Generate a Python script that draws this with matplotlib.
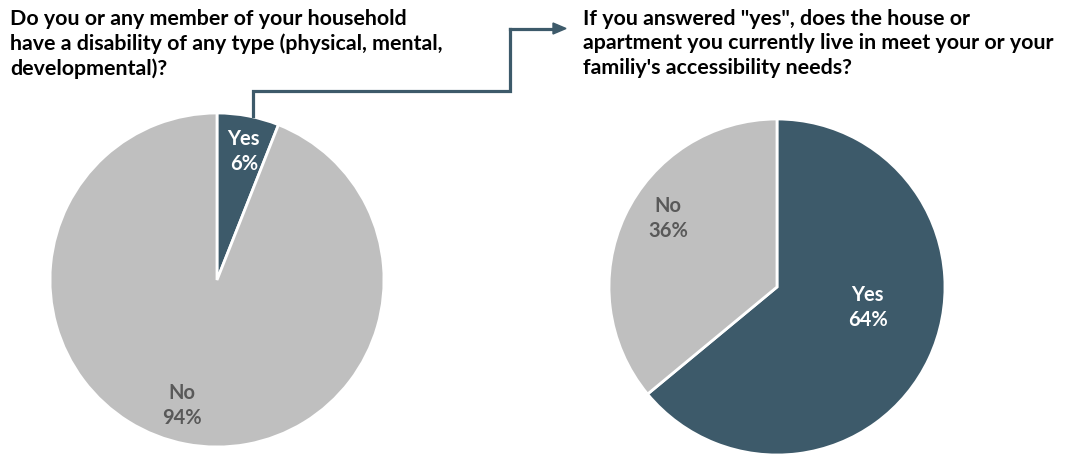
import matplotlib.pyplot as plt

dark = "#3d5a6a"
grey = "#bfbfbf"
label_grey = "#595959"

left_title = "Do you or any member of your household\nhave a disability of any type (physical, mental,\ndevelopmental)?"
right_title = "If you answered \"yes\", does the house or\napartment you currently live in meet your or your\nfamiliy's accessibility needs?"

left_labels = ["Yes", "No"]
left_values = [6, 94]
right_labels = ["Yes", "No"]
right_values = [64, 36]

# label positions in pie radius units
left_label_pos = [(0.16, 0.77), (-0.21, -0.75)]
right_label_pos = [(0.54, -0.12), (-0.65, 0.41)]

plt.rcParams["font.family"] = ["Lato", "DejaVu Sans"]
plt.rcParams["font.weight"] = "bold"

fig = plt.figure(figsize=(10.71, 4.54), dpi=100)

W, H = 1071, 454


def pie_axes(cx, cy, r):
    return fig.add_axes([(cx - r) / W, (H - cy - r) / H, 2 * r / W, 2 * r / H])


def draw_pie(ax, labels, values, positions):
    wedges, _ = ax.pie(values, colors=[dark, grey], startangle=90, counterclock=False,
                       wedgeprops=dict(edgecolor="white", linewidth=2))
    total = sum(values)
    for lab, v, w, (x, y) in zip(labels, values, wedges, positions):
        c = "white" if w.get_facecolor()[0] < 0.5 else label_grey
        ax.text(x, y, f"{lab}\n{round(100 * v / total)}%", ha="center", va="center",
                color=c, fontsize=14.5, fontweight="bold", linespacing=1.3)
    ax.set_xlim(-1, 1)
    ax.set_ylim(-1, 1)
    ax.axis("off")


ax1 = pie_axes(217, 280, 167)
draw_pie(ax1, left_labels, left_values, left_label_pos)
ax2 = pie_axes(777, 287, 168)
draw_pie(ax2, right_labels, right_values, right_label_pos)

fig.text(10 / W, 1 - 9 / H, left_title, ha="left", va="top", fontsize=15.4,
         fontweight="bold", linespacing=1.27, color="black")
fig.text(583 / W, 1 - 9 / H, right_title, ha="left", va="top", fontsize=15.4,
         fontweight="bold", linespacing=1.27, color="black")

# connector arrow between the two questions
xs = [252.5 / W, 252.5 / W, 510 / W, 510 / W]
ys = [1 - 116 / H, 1 - 91 / H, 1 - 91 / H, 1 - 28.5 / H]
fig.add_artist(plt.Line2D(xs, ys, color=dark, lw=2.3, solid_joinstyle="miter"))
fig.add_artist(plt.Line2D([510 / W, 556 / W], [1 - 28.5 / H] * 2, color=dark, lw=2.3))
fig.patches.append(plt.Polygon([(553 / W, 1 - 23 / H), (566 / W, 1 - 28.5 / H), (553 / W, 1 - 34 / H)],
                               closed=True, transform=fig.transFigure, color=dark))

fig.savefig("out.png", dpi=100)
